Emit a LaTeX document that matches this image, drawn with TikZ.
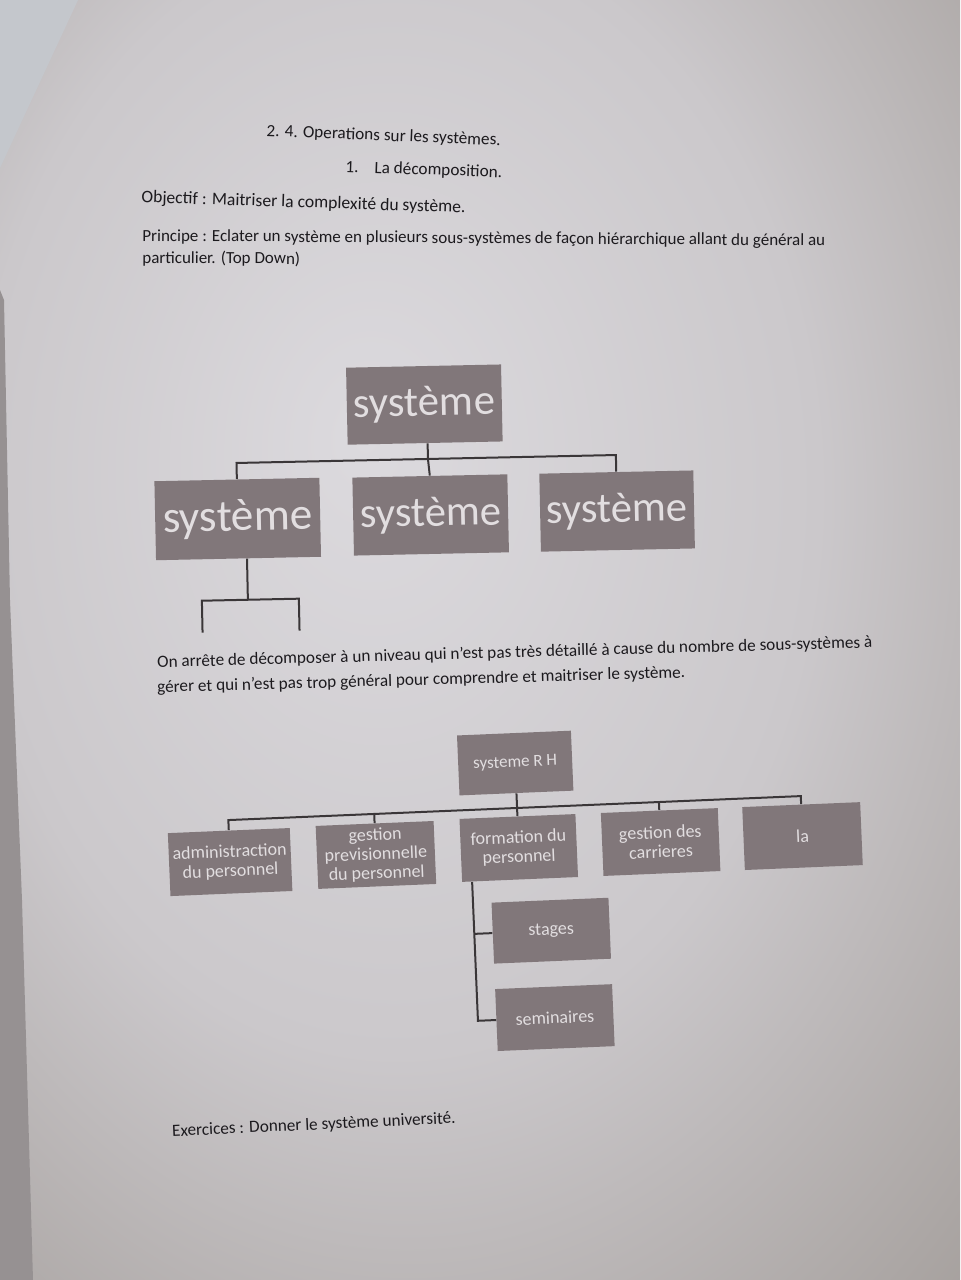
\documentclass[tikz,border=0pt]{standalone}
\usepackage{fontspec}
\setmainfont{Carlito}
\begin{document}
\definecolor{paperA}{RGB}{220,218,222}
\definecolor{paperB}{RGB}{203,200,203}
\definecolor{paperC}{RGB}{158,152,148}
\definecolor{edge}{RGB}{150,145,146}
\definecolor{corner}{RGB}{196,199,204}
\definecolor{ink}{RGB}{28,26,30}
\definecolor{boxfill}{RGB}{129,119,122}
\definecolor{boxtext}{RGB}{226,222,224}
\definecolor{wire}{RGB}{58,54,56}
\pgfdeclareradialshading{paperlight}{\pgfpoint{-6bp}{8bp}}{%
  color(0bp)=(paperA); color(22bp)=(paperB); color(45bp)=(paperC); color(80bp)=(paperC)}
\begin{tikzpicture}[x=0.5pt,y=-0.5pt,
  txt/.style={anchor=base west,inner sep=0pt,text=ink,font=\fontsize{8.6}{10.5}\selectfont},
  bigbox/.style={fill=boxfill,draw=none,inner sep=0pt,text=boxtext,
    font=\fontsize{21.3}{24}\selectfont},
  smallbox/.style={fill=boxfill,draw=none,inner sep=0pt,text=boxtext,align=center,
    minimum width=59pt,minimum height=31.5pt,
    font=\fontsize{9}{9.6}\selectfont},
  wirestyle/.style={draw=wire,line width=1pt}]
\useasboundingbox (0,0) rectangle (960,1280);

% paper and surroundings
\shade[shading=paperlight] (0,0) rectangle (960,1280);
\fill[corner] (0,0) -- (78,0) -- (0,168) -- cycle;
\fill[edge] (0,290) -- (4,300) -- (10,600) -- (22,900) -- (33,1280) -- (0,1280) -- cycle;

% headings and paragraphs
\node[txt,rotate=-2.3] (t1) at (266,136) {2. 4. Operations sur les systèmes.};
\node[txt,rotate=-2.0] (t2) at (345,172) {\makebox[14.5pt][l]{1.}La décomposition.};
\node[txt,rotate=-1.8,font=\fontsize{8.8}{10.5}\selectfont] (t3) at (141,202.5) {Objectif : Maitriser la complexité du système.};
\node[txt,rotate=-0.4,font=\fontsize{8.5}{10.5}\selectfont] (t4) at (142,241) {Principe : Eclater un système en plusieurs sous-systèmes de façon hiérarchique allant du général au};
\node[txt,rotate=-0.4,font=\fontsize{8.5}{10.5}\selectfont] (t5) at (142,263) {particulier. (Top Down)};

% first decomposition tree
\begin{scope}[rotate around={1.2:(428,460)},transform shape]
  \node[bigbox,minimum width=77.5pt,minimum height=38.5pt] (r) at (425.5,404.5) {système};
  \node[bigbox,minimum width=82.5pt,minimum height=39.5pt,font=\fontsize{22.6}{25}\selectfont] (a) at (236.5,515) {système};
  \node[bigbox,minimum width=77.5pt,minimum height=39pt] (b) at (429.5,515) {système};
  \node[bigbox,minimum width=77pt,minimum height=39pt] (c) at (616,515) {système};
  \coordinate (bus) at (428,459);
  \coordinate (sa) at (245,596);
  \coordinate (sl) at (199,628);
  \coordinate (sr) at (296,628);
  \draw[wirestyle] (r.south -| bus) -- (bus);
  \draw[wirestyle] (a.north) |- (bus) -| (c.north);
  \draw[wirestyle] (bus) -- (b.north);
  \draw[wirestyle] (a.south -| sa) -- (sa);
  \draw[wirestyle] (sl) |- (sa) -| (sr);
\end{scope}

\node[txt,rotate=1.6] (t6) at (157,667.5) {On arrête de décomposer à un niveau qui n’est pas très détaillé à cause du nombre de sous-systèmes à};
\node[txt,rotate=1.6] (t7) at (157,692.5) {gérer et qui n’est pas trop général pour comprendre et maitriser le système.};

% second decomposition tree
\begin{scope}[rotate around={2.4:(517,806)},transform shape]
  \node[smallbox,minimum width=57pt,minimum height=30pt,font=\fontsize{8.5}{9.6}\selectfont] (rh) at (517,763) {systeme R H};
  \node[smallbox,minimum width=61pt] (n1) at (228,850) {administraction\\du personnel};
  \node[smallbox,minimum width=59pt] (n2) at (374,849) {gestion\\previsionnelle\\du personnel};
  \node[smallbox,minimum width=58pt] (n3) at (517,848) {formation du\\personnel};
  \node[smallbox,minimum width=58.5pt] (n4) at (659,848) {gestion des\\carrieres};
  \node[smallbox,minimum width=59pt] (n5) at (801,848) {la};
  \node[smallbox,minimum width=58.5pt,minimum height=30.5pt] (s1) at (546,932) {stages};
  \node[smallbox,minimum width=58.5pt,minimum height=31pt] (s2) at (546,1019) {seminaires};
  \coordinate (hub) at (517,808);
  \coordinate (drop) at (469,1019);
  \draw[wirestyle] (rh.south) -- (hub);
  \draw[wirestyle] (n1.north) |- (hub) -| (n5.north);
  \draw[wirestyle] (hub) -- (n3.north);
  \draw[wirestyle] (n2.north) -- (n2.north |- hub);
  \draw[wirestyle] (n4.north) -- (n4.north |- hub);
  \draw[wirestyle] (n3.south -| drop) -- (drop) -- (s2.west);
  \draw[wirestyle] (drop |- s1.west) -- (s1.west);
\end{scope}

\node[txt,rotate=2.7] (t8) at (172,1136.5) {Exercices : Donner le système université.};
\end{tikzpicture}
\end{document}
